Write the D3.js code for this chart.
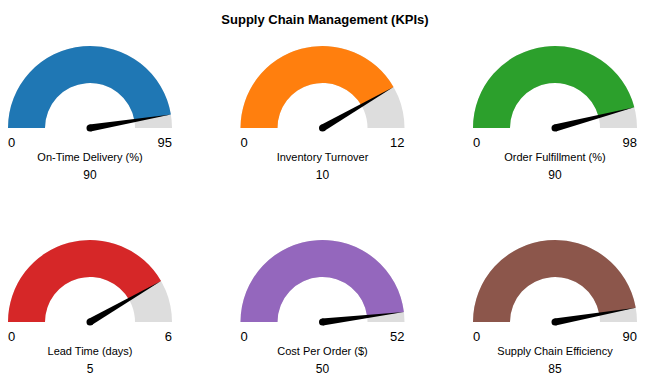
<!DOCTYPE html>
<html lang="en">
<head>
    <meta charset="UTF-8">
    <title>Supply Chain Management (KPIs)</title>
    <script src="https://d3js.org/d3.v7.min.js"></script>
    <style>
        body { margin: 0; background: #fff; }
        svg { font-family: "Liberation Sans", Arial, sans-serif; }
    </style>
</head>
<body>
    <div id="chart"></div>
    <script>
        const kpiNames = ["On-Time Delivery (%)", "Inventory Turnover", "Order Fulfillment (%)",
                          "Lead Time (days)", "Cost Per Order ($)", "Supply Chain Efficiency"];
        const kpiValues = [90, 10, 90, 5, 50, 85];
        const kpiMax = [95, 12, 98, 6, 52, 90];
        const kpiColors = ["#1f77b4", "#ff7f0e", "#2ca02c", "#d62728", "#9467bd", "#8c564b"];

        const width = 650, height = 389;
        const outerR = 82, innerR = 45;

        const svg = d3.select("#chart").append("svg")
            .attr("width", width)
            .attr("height", height);

        svg.append("text")
            .attr("x", width / 2)
            .attr("y", 24)
            .attr("text-anchor", "middle")
            .style("font-size", "13px")
            .style("font-weight", "bold")
            .text("Supply Chain Management (KPIs)");

        const xPos = d3.scaleLinear().domain([0, 2]).range([90, 555]);
        const yPos = d3.scaleLinear().domain([0, 1]).range([128, 322]);

        const arc = d3.arc().innerRadius(innerR).outerRadius(outerR);

        kpiNames.forEach((name, i) => {
            const cx = xPos(i % 3), cy = yPos(Math.floor(i / 3));
            const angle = d3.scaleLinear().domain([0, kpiMax[i]]).range([-Math.PI / 2, Math.PI / 2]);
            const g = svg.append("g").attr("transform", `translate(${cx},${cy})`);

            g.append("path")
                .attr("d", arc({ startAngle: angle(0), endAngle: angle(kpiMax[i]) }))
                .attr("fill", "#dddddd");
            g.append("path")
                .attr("d", arc({ startAngle: angle(0), endAngle: angle(kpiValues[i]) }))
                .attr("fill", kpiColors[i]);

            // needle
            const a = angle(kpiValues[i]);
            const tx = outerR * Math.sin(a), ty = -outerR * Math.cos(a);
            const w = 3.5;
            const px = w * Math.cos(a), py = w * Math.sin(a);
            g.append("path")
                .attr("d", `M${px},${py}L${tx},${ty}L${-px},${-py}Z`)
                .attr("fill", "#000");
            g.append("circle").attr("r", w).attr("fill", "#000");

            g.append("text")
                .attr("x", -outerR)
                .attr("y", 19)
                .style("font-size", "13px")
                .text(0);
            g.append("text")
                .attr("x", outerR)
                .attr("y", 19)
                .attr("text-anchor", "end")
                .style("font-size", "13px")
                .text(kpiMax[i]);
            g.append("text")
                .attr("y", 33)
                .attr("text-anchor", "middle")
                .style("font-size", "11px")
                .text(name);
            g.append("text")
                .attr("y", 51)
                .attr("text-anchor", "middle")
                .style("font-size", "12px")
                .text(kpiValues[i]);
        });
    </script>
</body>
</html>
